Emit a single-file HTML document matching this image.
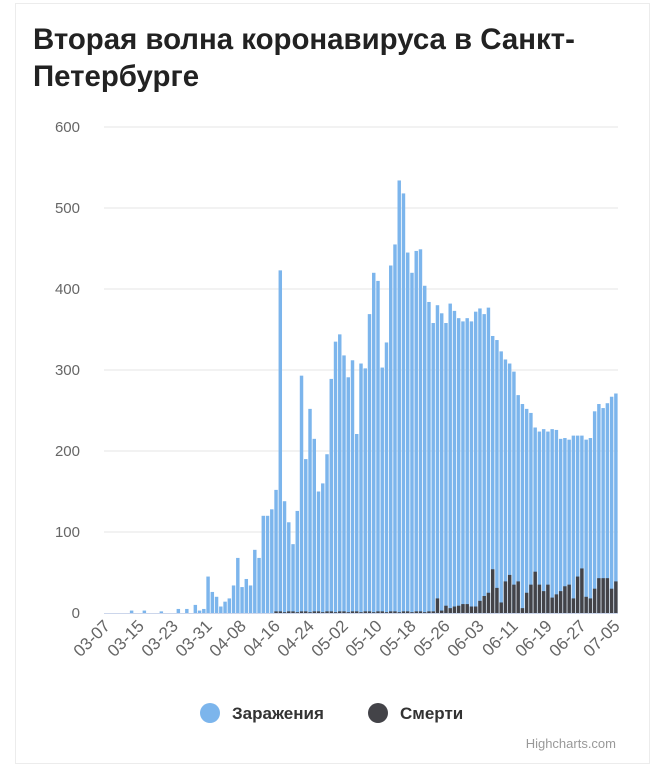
<!DOCTYPE html>
<html><head><meta charset="utf-8"><style>
html,body{margin:0;padding:0;background:#fff;width:664px;height:768px;overflow:hidden;font-family:"Liberation Sans","DejaVu Sans",sans-serif;}
</style></head><body>
<svg id="s" width="664" height="768" xmlns="http://www.w3.org/2000/svg" font-family="'Liberation Sans','DejaVu Sans',sans-serif">
<rect x="15.5" y="3.5" width="634" height="760" fill="#fff" stroke="#d8d8d8" stroke-dasharray="1,1"/>
<text x="33" y="49" font-size="29.4" font-weight="bold" fill="#222">Вторая волна коронавируса в Санкт-</text>
<text x="33" y="86" font-size="29.4" font-weight="bold" fill="#222">Петербурге</text>
<g id="grid"></g>
<g id="bars"></g>
<g id="xl" font-size="17" fill="#666"></g>
<circle cx="210" cy="713" r="10" fill="#7cb5ec"/>
<text x="232" y="719" font-size="17" font-weight="bold" fill="#333">Заражения</text>
<circle cx="378" cy="713" r="10" fill="#434348"/>
<text x="400" y="719" font-size="17" font-weight="bold" fill="#333">Смерти</text>
<text x="616" y="748" font-size="13" fill="#999" text-anchor="end">Highcharts.com</text>
</svg>
<script>
var NS="http://www.w3.org/2000/svg";
function el(p,t,a,txt){var e=document.createElementNS(NS,t);for(var k in a)e.setAttribute(k,a[k]);if(txt!=null)e.textContent=txt;document.getElementById(p).appendChild(e);return e;}
var x0=104,x1=618,base=613,sc=0.81,n=121,pw=(x1-x0)/n;
for(var v=0;v<=600;v+=100){var y=base-v*sc;
 if(v>0)el("grid","line",{x1:x0,x2:x1,y1:y,y2:y,stroke:"#e6e6e6","stroke-width":1});
 el("grid","text",{x:80,y:y+5,"font-size":15,fill:"#666","text-anchor":"end"},String(v));}
var blue=[0,0,0,0,0,0,3,0,0,3,0,0,0,2,0,0,0,5,0,5,0,10,3,5,
45,26,20,8,14,18,34,68,32,42,34,78,68,120,120,128,152,423,138,112,85,126,293,190,252,215,150,160,196,289,335,
344,318,291,312,221,308,302,369,420,410,303,334,429,455,534,518,445,420,447,449,404,384,358,380,370,358,382,373,364,360,364,360,372,376,369,377,342,337,323,313,308,298,269,258,252,247,229,224,227,224,227,226,215,216,214,219,219,219,214,216,249,258,253,259,267,271];
var dd=[18,3,9,6,8,9,11,11,8,8,15,21,25,54,31,13,39,47,35,39,6,25,35,51,35,27,35,19,23,27,33,35,18,45,55,20,18,30,43,43,43,30,39];
var death=[];for(var i=0;i<n;i++){death.push(i<40?0:(i<78?((i%3==0)?1:2):dd[i-78]));}
for(var i=0;i<n;i++){var x=x0+pw*i+0.4,w=pw-0.8;
 var h=blue[i]*sc;if(h>0)el("bars","rect",{x:x,y:base-h,width:w,height:h,fill:"#7cb5ec"});
 h=death[i]*sc;if(h>0)el("bars","rect",{x:x,y:base-h,width:w,height:h,fill:"#434348"});}
el("bars","line",{x1:x0,x2:x1,y1:base+0.5,y2:base+0.5,stroke:"#ccd6eb","stroke-width":1});
var labs=["03-07","03-15","03-23","03-31","04-08","04-16","04-24","05-02","05-10","05-18","05-26","06-03","06-11","06-19","06-27","07-05"];
for(var j=0;j<labs.length;j++){var cx=x0+pw*(j*8+0.5)+5,cy=627;
 el("xl","text",{x:cx,y:cy,"text-anchor":"end",transform:"rotate(-45 "+cx+" "+cy+")"},labs[j]);}
</script>
</body></html>
